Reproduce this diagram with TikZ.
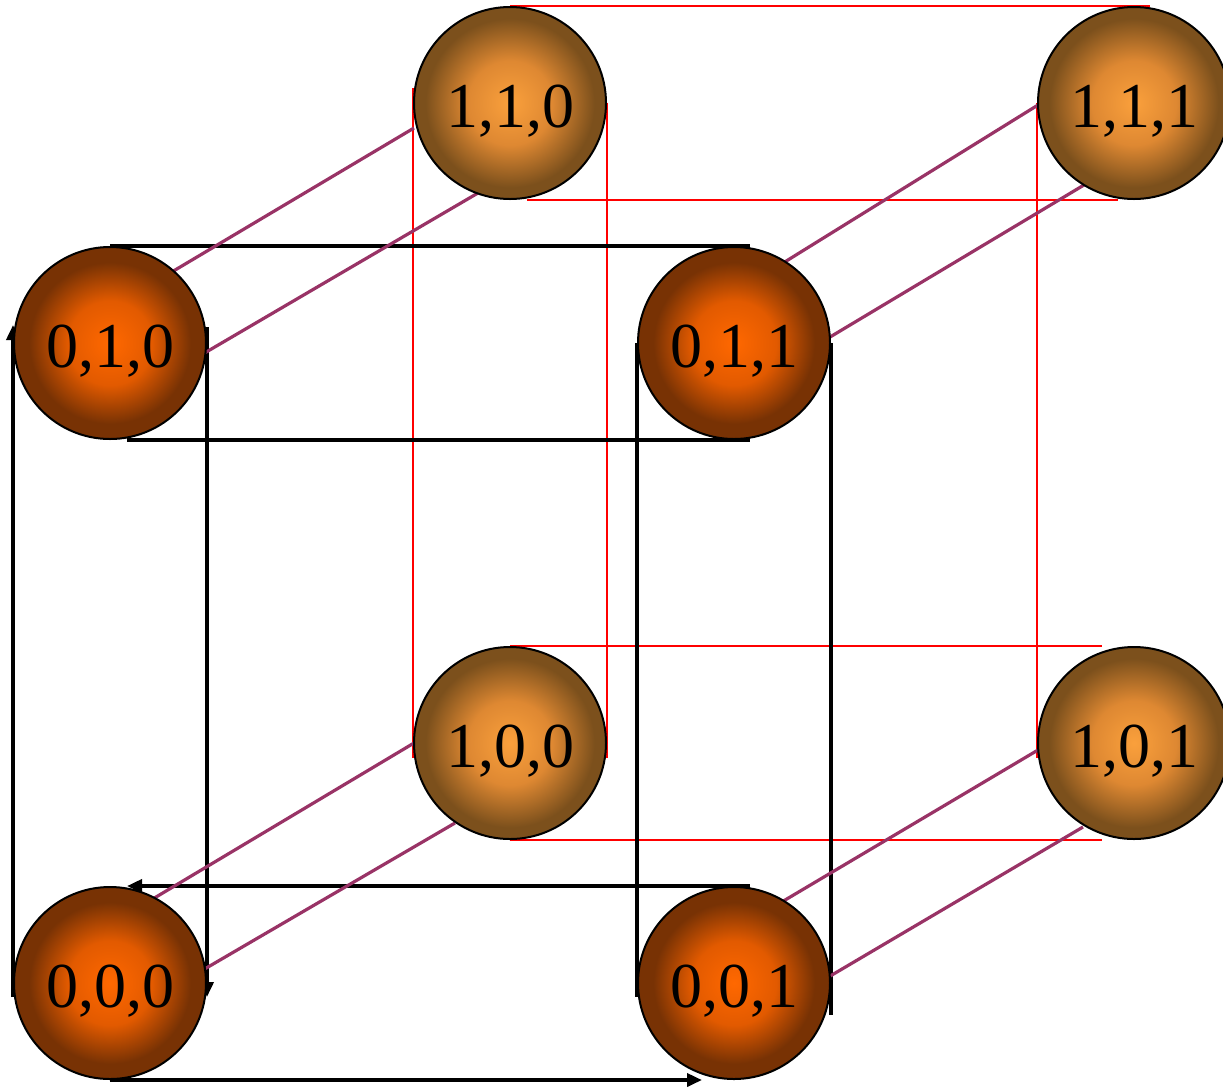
\documentclass[tikz,border=0pt]{standalone}
\usepackage{fontspec}
\setmainfont{Liberation Serif}
\usetikzlibrary{arrows.meta,calc,backgrounds}
\definecolor{finner}{RGB}{255,104,0}
\definecolor{fmid}{RGB}{226,90,0}
\definecolor{fouter}{RGB}{120,50,4}
\definecolor{binner}{RGB}{250,160,60}
\definecolor{bmid}{RGB}{222,136,50}
\definecolor{bouter}{RGB}{124,80,28}
\definecolor{edgepurple}{RGB}{153,51,102}
\pgfdeclareradialshading{frontball}{\pgfpoint{0bp}{0bp}}{color(0bp)=(finner); color(11bp)=(fmid); color(21bp)=(fouter); color(25bp)=(fouter); color(50bp)=(fouter)}
\pgfdeclareradialshading{backball}{\pgfpoint{0bp}{0bp}}{color(0bp)=(binner); color(11bp)=(bmid); color(22bp)=(bouter); color(25bp)=(bouter); color(50bp)=(bouter)}
\tikzset{
  ball/.style={circle, draw=black, line width=2pt, minimum size=192pt, inner sep=0pt,
    text height=48pt, text depth=0pt, font=\fontsize{64}{64}\selectfont},
  frontnode/.style={ball, shading=frontball},
  backnode/.style={ball, shading=backball},
  cubeblack/.style={line width=3.6pt, draw=black},
  cubered/.style={line width=2.4pt, draw=red},
  cubediag/.style={line width=3.2pt, draw=edgepurple},
  arrowend/.style={-{Triangle[length=15pt,width=13pt]}}
}
\begin{document}
\begin{tikzpicture}[x=1pt,y=1pt]
\useasboundingbox (0,-1088) rectangle (1223,0);
\clip (0,-1088) rectangle (1223,0);
% nodes
\node[backnode] (n110) at (510,-103) {1,1,0};
\node[backnode] (n111) at (1134,-103) {1,1,1};
\node[backnode] (n100) at (510,-743) {1,0,0};
\node[backnode] (n101) at (1134,-743) {1,0,1};
\node[frontnode] (n010) at (110,-343) {0,1,0};
\node[frontnode] (n011) at (734,-343) {0,1,1};
\node[frontnode] (n000) at (110,-983) {0,0,0};
\node[frontnode] (n001) at (734,-983) {0,0,1};
\begin{pgfonlayer}{background}
% back face (red)
\draw[cubered] (n110.north) -- ($(n111.north)+(16,0)$);
\draw[cubered] ($(n110.south)+(17,0)$) -- ($(n111.south)+(-16,0)$);
\draw[cubered] (n100.north) -- ($(n101.north)+(-32,0)$);
\draw[cubered] (n100.south) -- ($(n101.south)+(-32,0)$);
\draw[cubered] ($(n110.west)+(0,15)$) -- ($(n100.west)+(0,-15)$);
\draw[cubered] (n110.east) -- ($(n100.east)+(0,-15)$);
\draw[cubered] (n111.west) -- ($(n101.west)+(0,-15)$);
% front face (black)
\draw[cubeblack] (n010.north) -- ($(n011.north)+(16,0)$);
\draw[cubeblack] ($(n010.south)+(17,0)$) -- ($(n011.south)+(16,0)$);
\draw[cubeblack,arrowend] ($(n000.west)+(0,-14)$) -- ($(n010.west)+(0,18)$);
\draw[cubeblack,arrowend] ($(n010.east)+(0,16)$) -- ($(n000.east)+(0,-14)$);
\draw[cubeblack,arrowend] ($(n001.north)+(16,0)$) -- ($(n000.north)+(17,0)$);
\draw[cubeblack,arrowend] (n000.south) -- ($(n001.south)+(-32,0)$);
\draw[cubeblack] (n011.west) -- ($(n001.west)+(0,-14)$);
\draw[cubeblack] (n011.east) -- ($(n001.east)+(0,-32)$);
% connecting edges (purple)
\draw[cubediag] ($(n010)+(50,64)$) -- ($(n110)+(-96,-25)$);
\draw[cubediag] ($(n010)+(86,-15)$) -- ($(n110)+(-32,-90)$);
\draw[cubediag] ($(n011)+(41,75)$) -- ($(n111)+(-96,-2)$);
\draw[cubediag] ($(n011)+(86,0)$) -- ($(n111)+(-50,-82)$);
\draw[cubediag] ($(n000)+(36,80)$) -- ($(n100)+(-96,0)$);
\draw[cubediag] ($(n000)+(86,9)$) -- ($(n100)+(-55,-80)$);
\draw[cubediag] ($(n001)+(41,77)$) -- ($(n101)+(-96,-7)$);
\draw[cubediag] ($(n001)+(86,1)$) -- ($(n101)+(-51,-84)$);
\end{pgfonlayer}
\end{tikzpicture}
\end{document}
